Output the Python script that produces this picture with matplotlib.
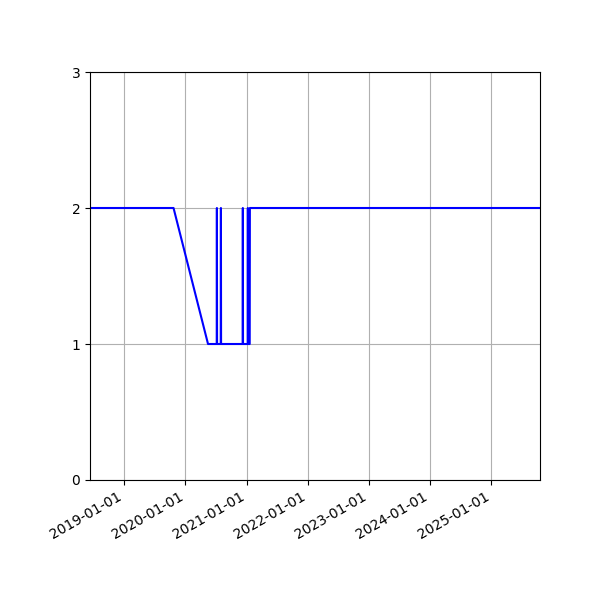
import matplotlib
matplotlib.use('Agg')
import matplotlib.pyplot as plt
import matplotlib.dates as mdates
import numpy as np
from datetime import datetime

dates = ['2018-06-10', '2019-10-22', '2020-05-15',
         '2020-07-06', '2020-07-07', '2020-07-08',
         '2020-07-30', '2020-07-31', '2020-08-01',
         '2020-12-08', '2020-12-09', '2020-12-10',
         '2021-01-07', '2021-01-08', '2021-01-09',
         '2021-01-19', '2021-01-20', '2025-10-19']
values = [2, 2, 1,
          1, 2, 1,
          1, 2, 1,
          1, 2, 1,
          1, 2, 1,
          1, 2, 2]

x = [datetime.strptime(d, '%Y-%m-%d') for d in dates]

fig, ax = plt.subplots(figsize=(6, 6), dpi=100)
ax.plot(x, values, color='blue')
ax.set_xlim(x[0], x[-1])
ax.set_ylim(0, 3)
ax.set_yticks([0, 1, 2, 3])
ax.xaxis.set_major_locator(mdates.YearLocator())
ax.xaxis.set_major_formatter(mdates.DateFormatter('%Y-%m-%d'))
ax.grid(True)
fig.autofmt_xdate()
fig.subplots_adjust(left=0.15, right=0.9, top=0.88, bottom=0.2)

fig.savefig('out.png')
